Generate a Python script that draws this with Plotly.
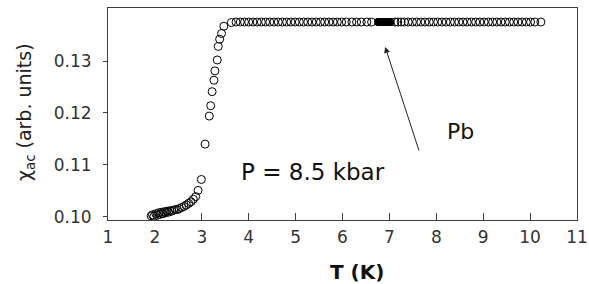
import plotly.graph_objects as go

# Low-temperature tail and transition
t_low = [1.92, 1.95, 1.98, 2.02, 2.05, 2.08, 2.11, 2.14, 2.17, 2.20, 2.23, 2.26, 2.29, 2.32,
         2.36, 2.40, 2.44, 2.48, 2.52, 2.57, 2.62, 2.67, 2.72, 2.77, 2.82, 2.87, 2.92, 2.99,
         3.07, 3.16, 3.19, 3.22, 3.26, 3.28, 3.33, 3.35, 3.38, 3.42, 3.47, 3.63]
chi_low = [0.1002, 0.1004, 0.1001, 0.1006, 0.1003, 0.1008, 0.1005, 0.1009, 0.1006, 0.1010,
           0.1008, 0.1011, 0.1009, 0.1012, 0.1011, 0.1013, 0.1014, 0.1014, 0.1016, 0.1018,
           0.1020, 0.1023, 0.1026, 0.1029, 0.1034, 0.1039, 0.1051, 0.1072,
           0.1140, 0.1194, 0.1214, 0.1241, 0.1263, 0.1281, 0.1302, 0.1328, 0.1342, 0.1353,
           0.1367, 0.1374]

# Normal-state plateau
t_plateau = [3.73, 3.82, 3.91, 4.00, 4.09, 4.18, 4.27, 4.36, 4.45, 4.54, 4.63, 4.72, 4.81,
             4.90, 4.99, 5.08, 5.17, 5.26, 5.35, 5.44, 5.53, 5.62, 5.71, 5.80, 5.89, 5.98,
             6.08, 6.20, 6.30, 6.40, 6.52, 6.62, 7.12, 7.18, 7.25, 7.32, 7.40, 7.49, 7.58,
             7.67, 7.76, 7.85, 7.94, 8.03, 8.12, 8.21, 8.30, 8.39, 8.48, 8.57, 8.66, 8.75,
             8.84, 8.93, 9.02, 9.11, 9.20, 9.29, 9.38, 9.47, 9.56, 9.65, 9.74, 9.83, 9.92,
             10.01, 10.10, 10.23]
chi_plateau = [0.1375, 0.1375, 0.1375, 0.1375, 0.1375, 0.1375, 0.1375, 0.1375, 0.1375,
               0.1375, 0.1375, 0.1375, 0.1375, 0.1375, 0.1375, 0.1375, 0.1375, 0.1375,
               0.1375, 0.1375, 0.1375, 0.1375, 0.1375, 0.1375, 0.1375, 0.1375, 0.1375,
               0.1375, 0.1375, 0.1375, 0.1375, 0.1375, 0.1375, 0.1375, 0.1375, 0.1375,
               0.1375, 0.1375, 0.1375, 0.1375, 0.1375, 0.1375, 0.1375, 0.1375, 0.1375,
               0.1375, 0.1375, 0.1375, 0.1375, 0.1375, 0.1375, 0.1375, 0.1375, 0.1375,
               0.1375, 0.1375, 0.1375, 0.1375, 0.1375, 0.1375, 0.1375, 0.1375, 0.1375,
               0.1375, 0.1375, 0.1375, 0.1375, 0.1375]

# Dense (Pb) region
t_pb = [6.76, 6.78, 6.80, 6.82, 6.84, 6.86, 6.88, 6.90, 6.92, 6.94, 6.96, 6.98, 7.00, 7.02]
chi_pb = [0.1375, 0.1375, 0.1375, 0.1375, 0.1375, 0.1375, 0.1375, 0.1375, 0.1375, 0.1375,
          0.1375, 0.1375, 0.1375, 0.1375]

x_ticks = [1, 2, 3, 4, 5, 6, 7, 8, 9, 10, 11]
y_ticks = [0.10, 0.11, 0.12, 0.13]

font = "DejaVu Sans, Liberation Sans, Arial, sans-serif"
axis_col = "#404040"

fig = go.Figure()
open_marker = dict(symbol="circle-open", size=8, color="black", line=dict(width=1, color="black"))
fig.add_trace(go.Scatter(x=t_low + t_plateau, y=chi_low + chi_plateau, mode="markers",
                         marker=open_marker, showlegend=False))
fig.add_trace(go.Scatter(x=t_pb, y=chi_pb, mode="markers",
                         marker=dict(symbol="circle", size=8, color="black"), showlegend=False))

fig.update_layout(
    width=589, height=284,
    margin=dict(l=108, r=12, t=8, b=64, autoexpand=False),
    paper_bgcolor="white", plot_bgcolor="white",
    font=dict(family=font, color="#333333"),
    xaxis=dict(range=[1, 11], tickvals=x_ticks, ticks="inside", ticklen=7, tickcolor=axis_col,
               showline=True, linecolor=axis_col, linewidth=1, mirror=True, showgrid=False,
               zeroline=False, tickfont=dict(size=17, color="#333333"), ticklabelstandoff=2),
    yaxis=dict(range=[0.0994, 0.1402], tickvals=y_ticks, tickformat=".2f", ticks="outside",
               ticklen=4, tickcolor=axis_col, showline=True, linecolor=axis_col, linewidth=1,
               mirror=True, showgrid=False, zeroline=False, tickfont=dict(size=17, color="#333333"),
               ticklabelstandoff=8),
    annotations=[
        dict(text="<b>T (K)</b>", xref="paper", yref="paper", x=(356.5 - 108) / 469,
             y=-(272 - 220) / 212, xanchor="center", yanchor="middle", showarrow=False,
             font=dict(size=20, color="#111111", family=font)),
        dict(text="χ<sub>ac</sub> (arb. units)", xref="paper", yref="paper", x=(25 - 108) / 469,
             y=(220 - 112) / 212, xanchor="center", yanchor="middle", textangle=-90, showarrow=False,
             font=dict(size=19, color="#222222", family=font)),
        dict(text="P = 8.5 kbar", x=5.38, y=0.10865, xref="x", yref="y", showarrow=False,
             font=dict(size=23, color="#111111", family=font)),
        dict(text="Pb", x=8.52, y=0.11644, xref="x", yref="y", showarrow=False,
             font=dict(size=22, color="#111111", family=font)),
        dict(text="", x=6.91, y=0.1327, xref="x", yref="y", ax=7.64, ay=0.1125,
             axref="x", ayref="y", showarrow=True, arrowhead=2, arrowsize=1.2, arrowwidth=1,
             arrowcolor="#222222"),
    ],
)

fig.write_html("out.html", config={"displayModeBar": False},
               post_script="document.body.style.margin='0';document.body.style.overflow='hidden';")
